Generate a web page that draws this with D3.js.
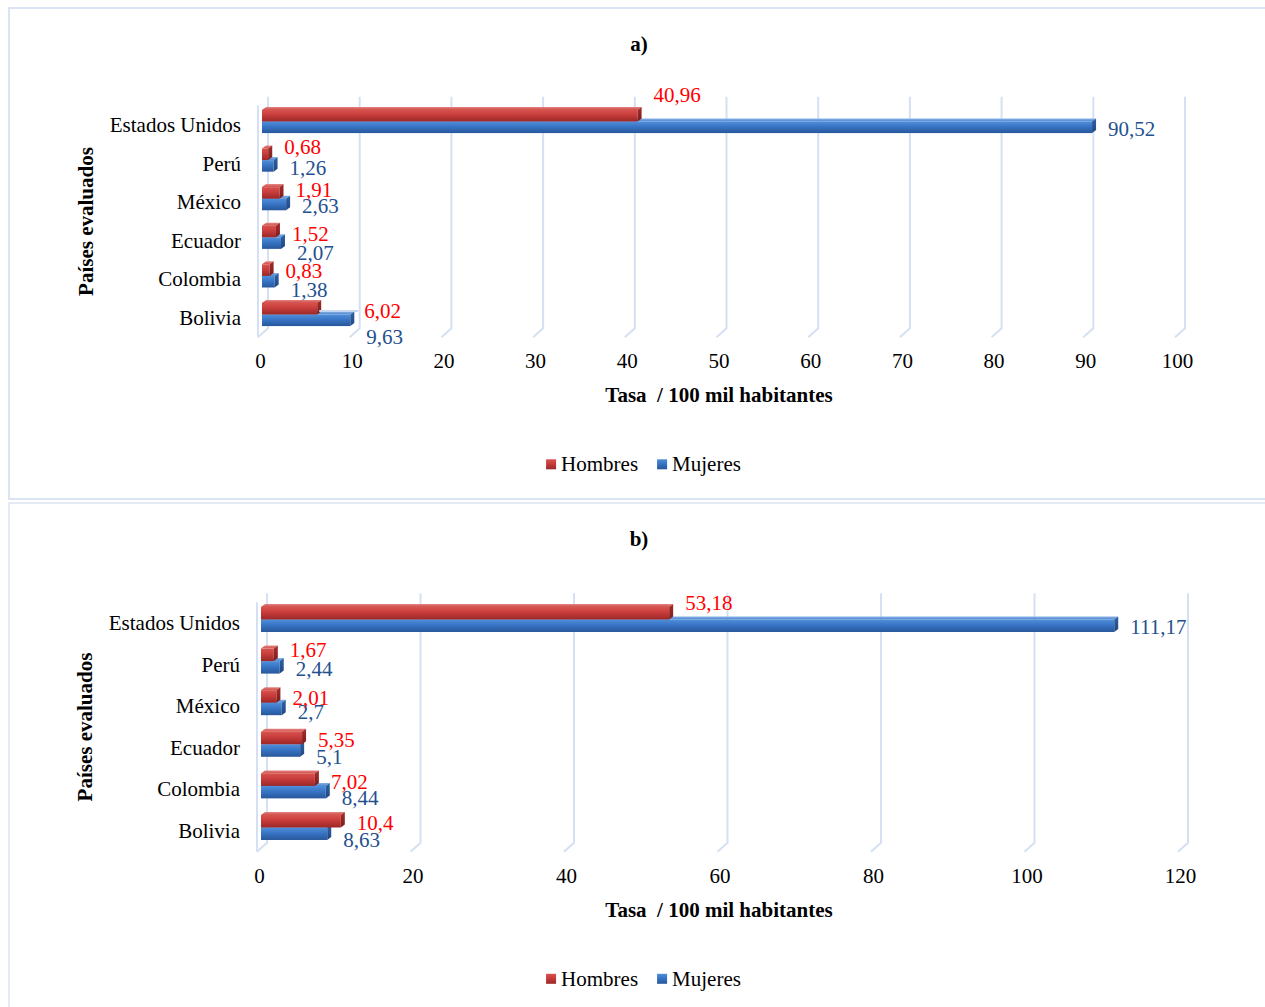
<!DOCTYPE html>
<html>
<head>
<meta charset="utf-8">
<script src="https://cdn.jsdelivr.net/npm/d3@7"></script>
<style>
  html, body { margin: 0; padding: 0; background: #fff; }
  svg { display: block; font-family: "Liberation Serif", "Times New Roman", serif; }
</style>
</head>
<body>
<svg id="chart" width="1265" height="1007"></svg>
<script>
// ---- data ----
const categories = ["Estados Unidos", "Perú", "México", "Ecuador", "Colombia", "Bolivia"];
const seriesNames = ["Hombres", "Mujeres"];

const hombresA = [40.96, 0.68, 1.91, 1.52, 0.83, 6.02];
const mujeresA = [90.52, 1.26, 2.63, 2.07, 1.38, 9.63];
const ticksA = [0, 10, 20, 30, 40, 50, 60, 70, 80, 90, 100];

const hombresB = [53.18, 1.67, 2.01, 5.35, 7.02, 10.4];
const mujeresB = [111.17, 2.44, 2.7, 5.1, 8.44, 8.63];
const ticksB = [0, 20, 40, 60, 80, 100, 120];

const axisTitleX = "Tasa  / 100 mil habitantes";
const axisTitleY = "Países evaluados";

// ---- styling / layout ----
const FONT = 21;
const SERIF = '"Liberation Serif", "Times New Roman", serif';
const GRID = "#d5e1f2";
const LABEL_COLOR = { Hombres: "#ff0000", Mujeres: "#24508f" };
const WALL_DX = 10, WALL_DY = 9;       // depth of the back wall
const BAR_DX = 4, BAR_DY = 3;          // depth of each 3D bar
const BAR_SHIFT_X = 4, BAR_SHIFT_Y = -3.5;
const LABEL_GAP = 20;

const svg = d3.select("#chart");
const defs = svg.append("defs");

function vGrad(id, stops) {
  const g = defs.append("linearGradient").attr("id", id)
    .attr("x1", 0).attr("y1", 0).attr("x2", 0).attr("y2", 1);
  stops.forEach(([o, c]) => g.append("stop").attr("offset", o).attr("stop-color", c));
}
vGrad("redFront", [[0, "#d9524d"], [0.45, "#c63c3b"], [1, "#9b2727"]]);
vGrad("redTop", [[0, "#e38580"], [1, "#cf4d49"]]);
vGrad("redEnd", [[0, "#a52d2b"], [1, "#7d1d1d"]]);
vGrad("blueFront", [[0, "#4f8fdb"], [0.45, "#3874c4"], [1, "#27579b"]]);
vGrad("blueTop", [[0, "#88b2e6"], [1, "#4c86d0"]]);
vGrad("blueEnd", [[0, "#2f62a8"], [1, "#1f477f"]]);

const FILLS = {
  Hombres: { front: "url(#redFront)", top: "url(#redTop)", end: "url(#redEnd)" },
  Mujeres: { front: "url(#blueFront)", top: "url(#blueTop)", end: "url(#blueEnd)" }
};

const fmt = v => String(v).replace(".", ",");

// panel frames
svg.append("rect").attr("x", 9).attr("y", 8).attr("width", 1270).attr("height", 491)
  .attr("fill", "none").attr("stroke", "#dae4f4").attr("stroke-width", 2);
svg.append("rect").attr("x", 9).attr("y", 503).attr("width", 1270).attr("height", 600)
  .attr("fill", "none").attr("stroke", "#dae4f4").attr("stroke-width", 1.5);

function drawPanel(p) {
  const g = svg.append("g");
  const x = d3.scaleLinear().domain([0, p.ticks[p.ticks.length - 1]]).range(p.xRange);
  const y = d3.scaleBand().domain(categories).range(p.yRange);
  const [y0, y1] = p.yRange;
  const pairH = y.step() * 0.6;
  const sub = d3.scaleBand().domain(seriesNames).range([-pairH / 2, pairH / 2]);
  const mid = c => y(c) + y.bandwidth() / 2;

  // title
  g.append("text").attr("x", 639).attr("y", p.top + 36)
    .attr("text-anchor", "middle").attr("dominant-baseline", "central")
    .attr("font-size", FONT).attr("font-weight", "bold").text(p.title);

  // gridlines on the back wall, folding forward at the bottom
  g.append("g").selectAll("path").data(p.ticks).join("path")
    .attr("d", v => `M${x(v) + WALL_DX},${y0 - WALL_DY}V${y1 - WALL_DY}L${x(v)},${y1}`)
    .attr("fill", "none").attr("stroke", GRID).attr("stroke-width", 2);
  g.append("line")
    .attr("x1", x(0)).attr("x2", x(0)).attr("y1", y0).attr("y2", y1)
    .attr("stroke", GRID).attr("stroke-width", 2);

  // value axis tick labels
  const ax = g.append("g").attr("transform", `translate(2,${y1 + 24})`)
    .call(d3.axisBottom(x).tickValues(p.ticks).tickSize(0).tickPadding(0).tickFormat(d3.format("d")));
  ax.select(".domain").remove();
  ax.attr("font-family", SERIF).attr("font-size", FONT);
  ax.selectAll("text").attr("dy", null).attr("dominant-baseline", "central")
    .attr("font-size", FONT).attr("font-family", SERIF).attr("fill", "#000");

  // category labels
  g.append("g").selectAll("text").data(categories).join("text")
    .attr("x", x(0) - 17).attr("y", c => mid(c))
    .attr("text-anchor", "end").attr("dominant-baseline", "central")
    .attr("font-size", FONT).text(c => c);

  // axis titles
  g.append("text").attr("x", 719).attr("y", y1 + 58)
    .attr("text-anchor", "middle").attr("dominant-baseline", "central")
    .attr("font-size", FONT).attr("font-weight", "bold")
    .style("white-space", "pre").attr("xml:space", "preserve").text(axisTitleX);
  g.append("text")
    .attr("transform", `translate(${x(0) - 172},${(y0 + y1) / 2}) rotate(-90)`)
    .attr("text-anchor", "middle").attr("dominant-baseline", "central")
    .attr("font-size", FONT).attr("font-weight", "bold").text(axisTitleY);

  // bars: lower series drawn first so the upper bar's front face covers its top face
  const rows = [];
  categories.forEach((c, i) => {
    rows.push({ cat: c, i, series: "Mujeres", value: p.mujeres[i] });
    rows.push({ cat: c, i, series: "Hombres", value: p.hombres[i] });
  });
  const bars = g.append("g").selectAll("g").data(rows).join("g");
  const geo = d => {
    const xs = x(0) + BAR_SHIFT_X, xe = x(d.value) + BAR_SHIFT_X;
    const yt = mid(d.cat) + sub(d.series) + BAR_SHIFT_Y;
    return { xs, xe, yt, h: sub.bandwidth() };
  };
  bars.append("path").attr("fill", d => FILLS[d.series].top)
    .attr("d", d => { const b = geo(d);
      return `M${b.xs},${b.yt}L${b.xs + BAR_DX},${b.yt - BAR_DY}L${b.xe + BAR_DX},${b.yt - BAR_DY}L${b.xe},${b.yt}Z`; });
  bars.append("rect").attr("fill", d => FILLS[d.series].front)
    .attr("x", d => geo(d).xs).attr("y", d => geo(d).yt)
    .attr("width", d => geo(d).xe - geo(d).xs).attr("height", d => geo(d).h);
  bars.append("path").attr("fill", d => FILLS[d.series].end)
    .attr("d", d => { const b = geo(d);
      return `M${b.xe},${b.yt}L${b.xe + BAR_DX},${b.yt - BAR_DY}L${b.xe + BAR_DX},${b.yt + b.h - BAR_DY}L${b.xe},${b.yt + b.h}Z`; });

  // data labels
  rows.forEach(d => {
    const extra = (p.leader && p.leader.series === d.series && p.leader.index === d.i) ? p.leader.dx : 0;
    const lx = x(d.value) + LABEL_GAP + extra;
    const ly = mid(d.cat) + p.labelShift[d.series][d.i];
    if (extra) {
      g.append("line").attr("x1", geo(d).xe + 2).attr("x2", lx - 6)
        .attr("y1", ly).attr("y2", ly).attr("stroke", "#c5d6ee").attr("stroke-width", 2);
    }
    g.append("text").attr("x", lx).attr("y", ly)
      .attr("dominant-baseline", "central").attr("font-size", FONT)
      .attr("fill", LABEL_COLOR[d.series]).text(fmt(d.value));
  });

  // legend
  const leg = g.append("g").attr("transform", `translate(0,${y1 + 127})`);
  let cx = 0;
  const items = seriesNames.map(s => {
    const it = leg.append("g");
    it.append("rect").attr("x", 0).attr("y", -5).attr("width", 10).attr("height", 10)
      .attr("fill", FILLS[s].front);
    const t = it.append("text").attr("x", 15).attr("dominant-baseline", "central")
      .attr("font-size", FONT).text(s);
    const w = 15 + t.node().getComputedTextLength();
    it.attr("transform", `translate(${cx},0)`);
    cx += w + 19;
    return it;
  });
  const total = cx - 19;
  items.forEach(it => {
    const cur = it.attr("transform");
    const tx = +cur.match(/translate\(([-\d.]+)/)[1];
    it.attr("transform", `translate(${643.5 - total / 2 + tx},0)`);
  });
}

drawPanel({
  top: 8, title: "a)", hombres: hombresA, mujeres: mujeresA, ticks: ticksA,
  xRange: [258, 1175], yRange: [105.7, 337.3],
  labelShift: { Hombres: [-30, -17, -12, -7, -8, -7], Mujeres: [4, 4, 4, 12, 11, 19] },
  leader: { series: "Hombres", index: 5, dx: 31 }
});
drawPanel({
  top: 503, title: "b)", hombres: hombresB, mujeres: mujeresB, ticks: ticksB,
  xRange: [257, 1178], yRange: [602.2, 851.8],
  labelShift: { Hombres: [-20, -15, -8, -8, -7, -8], Mujeres: [4, 4, 6, 9, 9, 9] }
});
</script>
</body>
</html>
